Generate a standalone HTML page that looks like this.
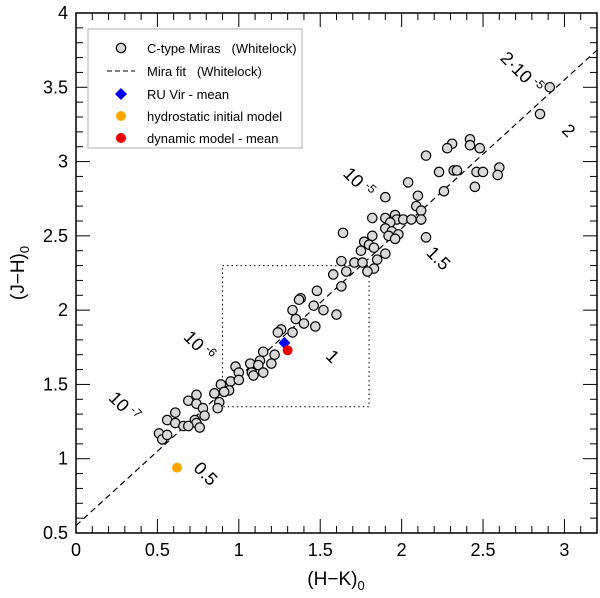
<!DOCTYPE html>
<html><head><meta charset="utf-8"><style>
body{margin:0;background:#fff;}
svg text{font-family:"Liberation Sans",sans-serif;white-space:pre;}
</style></head><body>
<svg id="chart" width="600" height="593" xmlns="http://www.w3.org/2000/svg"></svg>
<script>
const xTicks=[0,0.5,1,1.5,2,2.5,3];
const xTickLabels=["0","0.5","1","1.5","2","2.5","3"];
const yTicks=[0.5,1,1.5,2,2.5,3,3.5,4];
const yTickLabels=["0.5","1","1.5","2","2.5","3","3.5","4"];
const miraHK=[2.31,2.28,2.42,2.42,2.48,2.15,2.23,2.32,2.34,2.46,2.50,2.60,2.59,2.45,2.26,2.04,1.90,2.10,2.09,2.12,2.12,2.15,1.82,1.90,1.96,1.97,2.01,2.06,1.93,1.90,1.94,1.98,1.92,1.96,1.64,1.82,1.77,1.80,1.83,1.75,1.90,1.85,1.63,1.71,1.76,1.83,1.79,1.66,1.58,1.63,1.48,1.46,1.52,1.60,1.38,2.85,2.91,1.37,1.33,1.35,1.40,1.47,1.26,1.24,1.33,1.15,1.22,1.13,1.07,1.20,1.12,1.08,1.15,1.09,0.98,1.00,0.95,1.00,0.89,0.94,0.91,0.85,0.88,0.87,0.74,0.69,0.74,0.78,0.79,0.73,0.74,0.76,0.61,0.56,0.61,0.66,0.69,0.51,0.53,0.56];
const miraJH=[3.12,3.09,3.15,3.11,3.09,3.04,2.93,2.94,2.94,2.93,2.93,2.96,2.91,2.83,2.80,2.86,2.76,2.77,2.70,2.67,2.61,2.49,2.62,2.62,2.64,2.61,2.61,2.61,2.59,2.55,2.53,2.51,2.50,2.48,2.52,2.50,2.46,2.44,2.42,2.40,2.38,2.34,2.33,2.32,2.32,2.28,2.26,2.26,2.24,2.16,2.13,2.03,2.00,1.97,2.08,3.32,3.50,2.07,2.00,1.94,1.91,1.89,1.87,1.85,1.85,1.72,1.70,1.66,1.64,1.64,1.63,1.58,1.58,1.56,1.62,1.58,1.52,1.53,1.50,1.46,1.45,1.44,1.38,1.34,1.43,1.39,1.37,1.34,1.29,1.26,1.24,1.21,1.31,1.26,1.24,1.22,1.22,1.17,1.13,1.16];
const fitSlope=1.0, fitIntercept=0.55;
const ruVir=[1.28,1.78], hydro=[0.62,0.94], dynMean=[1.30,1.73];
const boxX=[0.9,1.8], boxY=[1.35,2.3];
const annotLabels=["10","10","10","2·10","2","1.5","1","0.5"];
const annotSup=["-7","-6","-5","-5","","","",""];
const annotX=[0.27,0.73,1.71,2.71,3.00,2.20,1.55,0.77];
const annotY=[1.32,1.73,2.83,3.57,3.18,2.32,1.66,0.87];

const L=76,R=597,T=13,B=533,xmin=0,xmax=3.2,ymin=0.5,ymax=4;
const sx=v=>L+(v-xmin)/(xmax-xmin)*(R-L);
const sy=v=>B-(v-ymin)/(ymax-ymin)*(B-T);
const svg=document.getElementById('chart');
const NS="http://www.w3.org/2000/svg";
function mk(tag,attrs,parent){const e=document.createElementNS(NS,tag);for(const k in attrs)e.setAttribute(k,attrs[k]);(parent||svg).appendChild(e);return e;}

let fl=mk('line',{x1:sx(0),y1:sy(fitIntercept),x2:sx(3.2),y2:sy(fitIntercept+fitSlope*3.2),stroke:'#000','stroke-width':1.2,'stroke-dasharray':'6,4'});


let bx=mk('rect',{x:sx(boxX[0]),y:sy(boxY[1]),width:sx(boxX[1])-sx(boxX[0]),height:sy(boxY[0])-sy(boxY[1]),fill:'none',stroke:'#000','stroke-dasharray':'1.5,3'});


for(let i=0;i<miraHK.length;i++){
 let c=mk('circle',{cx:sx(miraHK[i]),cy:sy(miraJH[i]),r:4.7,fill:'#d9d9d9',stroke:'#000','stroke-width':1.2});
 
 
}
let dx=sx(ruVir[0]),dy=sy(ruVir[1]);
let dm=mk('polygon',{points:`${dx},${dy-6} ${dx+6},${dy} ${dx},${dy+6} ${dx-6},${dy}`,fill:'#0000ee'});


let rc=mk('circle',{cx:sx(dynMean[0]),cy:sy(dynMean[1]),r:5,fill:'#ee0000'});


let oc=mk('circle',{cx:sx(hydro[0]),cy:sy(hydro[1]),r:5,fill:'#ffa500'});


for(let i=0;i<annotLabels.length;i++){
 let t=mk('text',{x:0,y:0,'font-size':18,transform:`translate(${sx(annotX[i])},${sy(annotY[i])}) rotate(45)`,'text-anchor':'middle'});
 t.textContent=annotLabels[i];
 if(annotSup[i]){let s=mk('tspan',{dx:4,dy:-7,'font-size':12},t);s.textContent=annotSup[i];}
 
 
}
let fr=mk('rect',{x:L,y:T,width:R-L,height:B-T,fill:'none',stroke:'#000','stroke-width':1.5});


for(let v=0;v<=3.2001;v+=0.1){const major=Math.abs(v*2-Math.round(v*2))<1e-6;const len=major?14:7;const x=sx(v);
 mk('line',{x1:x,y1:B,x2:x,y2:B-len,stroke:'#000'});mk('line',{x1:x,y1:T,x2:x,y2:T+len,stroke:'#000'});}
for(let v=0.5;v<=4.0001;v+=0.1){const major=Math.abs(v*2-Math.round(v*2))<1e-6;const len=major?14:7;const y=sy(v);
 mk('line',{x1:L,y1:y,x2:L+len,y2:y,stroke:'#000'});mk('line',{x1:R,y1:y,x2:R-len,y2:y,stroke:'#000'});}
xTicks.forEach((v,i)=>{let t=mk('text',{x:sx(v),y:556,'font-size':18,'text-anchor':'middle'});t.textContent=xTickLabels[i];
 
 });
yTicks.forEach((v,i)=>{let t=mk('text',{x:68,y:sy(v)+6,'font-size':18,'text-anchor':'end'});t.textContent=yTickLabels[i];
 
 });
let xt=mk('text',{x:336,y:585,'font-size':19,'text-anchor':'middle'});xt.innerHTML='(H−K)<tspan font-size="13" dy="5">0</tspan>';


let yt=mk('text',{x:0,y:0,'font-size':19,'text-anchor':'middle',transform:'translate(24,273) rotate(-90)'});yt.innerHTML='(J−H)<tspan font-size="13" dy="5">0</tspan>';


let lg=mk('g',{});


mk('rect',{x:88,y:29,width:214,height:119,fill:'#fff',stroke:'#ccc','stroke-width':1.5},lg);
const legY=[48,71,94,116,138];
const legTxt=['C-type Miras   (Whitelock)','Mira fit   (Whitelock)','RU Vir - mean','hydrostatic initial model','dynamic model - mean'];
mk('circle',{cx:121,cy:48,r:4.7,fill:'#d9d9d9',stroke:'#000','stroke-width':1.2},lg);
mk('line',{x1:107,y1:71,x2:135,y2:71,stroke:'#000','stroke-dasharray':'5,3'},lg);
mk('polygon',{points:'121,88 127,94 121,100 115,94',fill:'#0000ee'},lg);
mk('circle',{cx:121,cy:116,r:5,fill:'#ffa500'},lg);
mk('circle',{cx:121,cy:138,r:5,fill:'#ee0000'},lg);
legTxt.forEach((s,i)=>{let t=mk('text',{x:147,y:legY[i]+5,'font-size':13,'xml:space':'preserve'},lg);t.textContent=s;
 
 });
</script>
</body></html>
